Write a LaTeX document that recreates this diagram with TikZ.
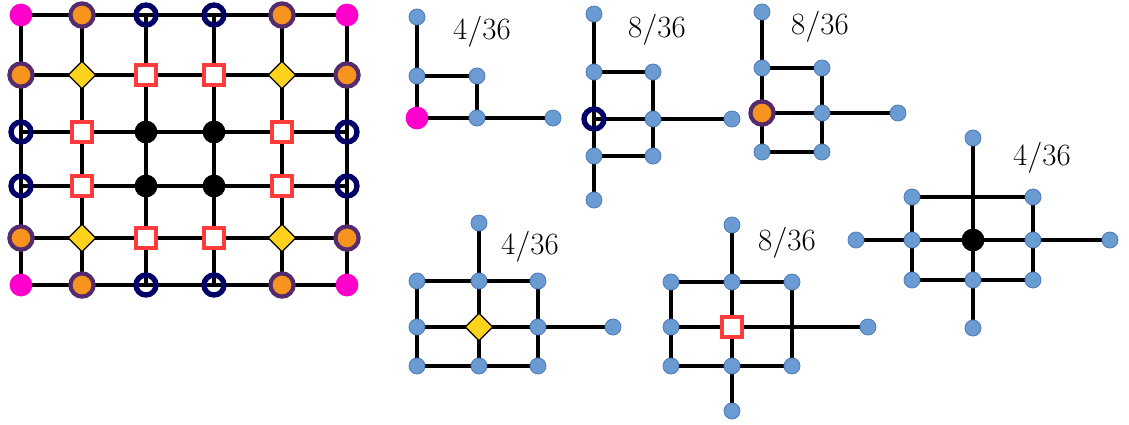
\RequirePackage{fix-cm}
\documentclass[tikz,border=0pt]{standalone}
\usetikzlibrary{shapes.geometric,backgrounds}

\definecolor{magpink}{RGB}{255,0,204}
\definecolor{orangefill}{RGB}{247,148,29}
\definecolor{purpborder}{RGB}{84,44,110}
\definecolor{navyring}{RGB}{0,0,102}
\definecolor{redsq}{RGB}{255,59,59}
\definecolor{yellowdia}{RGB}{255,210,30}
\definecolor{bluenode}{RGB}{106,155,210}
\definecolor{blueborder}{RGB}{80,125,185}

\tikzset{
  edge/.style={line width=3.3pt},
  bl/.style={circle, fill=bluenode, draw=blueborder, line width=0.6pt, inner sep=0pt, minimum size=0.4cm},
  corner/.style={circle, fill=magpink, inner sep=0pt, minimum size=0.57cm},
  orng/.style={circle, fill=orangefill, draw=purpborder, line width=3pt, inner sep=0pt, minimum size=0.58cm},
  ring/.style={circle, draw=navyring, line width=3.8pt, inner sep=0pt, minimum size=0.5cm},
  sq/.style={rectangle, fill=white, draw=redsq, line width=3pt, inner sep=0pt, minimum size=0.5cm},
  dia/.style={diamond, fill=yellowdia, draw=black, line width=0.8pt, inner sep=0pt, aspect=1, minimum size=0.7cm},
  blk/.style={circle, fill=black, inner sep=0pt, minimum size=0.57cm},
  frac/.style={font=\fontsize{22}{26}\selectfont}
}

\begin{document}
\begin{tikzpicture}[x=0.025cm, y=-0.025cm]
\useasboundingbox (0,0) rectangle (1129,424);

% grid 6x6
\foreach \i/\x in {1/21,2/82,3/146,4/214,5/282,6/347}
  \foreach \j/\y in {1/15,2/75,3/132,4/186,5/238,6/285}
    \coordinate (p\i\j) at (\x,\y);
\foreach \p in {11,61,16,66} \node[corner] (g\p) at (p\p) {};
\foreach \p in {21,51,12,62,15,65,26,56} \node[orng] (g\p) at (p\p) {};
\foreach \p in {31,41,13,63,14,64,36,46} \node[ring] (g\p) at (p\p) {};
\foreach \p in {22,52,25,55} \node[dia] (g\p) at (p\p) {};
\foreach \p in {32,42,23,53,24,54,35,45} \node[sq] (g\p) at (p\p) {};
\foreach \p in {33,43,34,44} \node[blk] (g\p) at (p\p) {};
\begin{scope}[on background layer]
\foreach \i [evaluate=\i as \k using int(\i+1)] in {1,...,5}
  \foreach \j in {1,...,6} {
    \draw[edge] (g\i\j.center) -- (g\k\j.center);
    \draw[edge] (g\j\i.center) -- (g\j\k.center);
  }
\end{scope}

% corner 4/36
\node[bl] (a1) at (417,17) {};
\node[bl] (a2) at (417,76) {};
\node[bl] (a3) at (477,76) {};
\node[corner] (a4) at (417,118) {};
\node[bl] (a5) at (477,118) {};
\node[bl] (a6) at (553,118) {};
\node[frac] (la) at (482,32) {$4/36$};

% edge 8/36
\node[bl] (b1) at (594,14) {};
\node[bl] (b2) at (594,72) {};
\node[bl] (b3) at (653,72) {};
\node[ring] (b4) at (594,119) {};
\node[bl] (b5) at (653,119) {};
\node[bl] (b6) at (732,119) {};
\node[bl] (b7) at (594,156) {};
\node[bl] (b8) at (653,156) {};
\node[bl] (b9) at (594,200) {};
\node[frac] (lb) at (657,30) {$8/36$};

% edge 8/36
\node[bl] (c1) at (762,12) {};
\node[bl] (c2) at (762,68) {};
\node[bl] (c3) at (822,68) {};
\node[orng] (c4) at (762,113) {};
\node[bl] (c5) at (822,113) {};
\node[bl] (c6) at (898,113) {};
\node[bl] (c7) at (762,152) {};
\node[bl] (c8) at (822,152) {};
\node[frac] (lc) at (820,27) {$8/36$};

% centre 4/36
\node[bl] (d1) at (973,138) {};
\node[bl] (d2) at (912,197) {};
\node[bl] (d3) at (1033,197) {};
\node[bl] (d4) at (856,240) {};
\node[bl] (d5) at (912,240) {};
\node[blk] (d6) at (973,240) {};
\node[bl] (d7) at (1033,240) {};
\node[bl] (d8) at (1110,240) {};
\node[bl] (d9) at (912,280) {};
\node[bl] (d10) at (973,280) {};
\node[bl] (d11) at (1033,280) {};
\node[bl] (d12) at (973,328) {};
\node[frac] (ld) at (1042,158) {$4/36$};

% diamond 4/36
\node[bl] (e1) at (479,223) {};
\node[bl] (e2) at (417,281) {};
\node[bl] (e3) at (479,281) {};
\node[bl] (e4) at (538,281) {};
\node[bl] (e5) at (417,327) {};
\node[dia] (e6) at (479,327) {};
\node[bl] (e7) at (538,327) {};
\node[bl] (e8) at (613,327) {};
\node[bl] (e9) at (417,366) {};
\node[bl] (e10) at (479,366) {};
\node[bl] (e11) at (538,366) {};
\node[frac] (le) at (530,247) {$4/36$};

% square 8/36
\node[bl] (f1) at (732,225) {};
\node[bl] (f2) at (671,282) {};
\node[bl] (f3) at (732,282) {};
\node[bl] (f4) at (792,282) {};
\node[bl] (f5) at (671,327) {};
\node[sq] (f6) at (732,327) {};
\node[bl] (f7) at (868,327) {};
\node[bl] (f8) at (671,366) {};
\node[bl] (f9) at (732,366) {};
\node[bl] (f10) at (792,366) {};
\node[bl] (f11) at (732,411) {};
\node[frac] (lf) at (787,243) {$8/36$};

\begin{scope}[on background layer]
\draw[edge] (a1.center) -- (a2.center) -- (a4.center) -- (a5.center) -- (a6.center);
\draw[edge] (a2.center) -- (a3.center) -- (a5.center);

\draw[edge] (b1.center) -- (b2.center) -- (b4.center) -- (b7.center) -- (b9.center);
\draw[edge] (b2.center) -- (b3.center) -- (b5.center) -- (b8.center) -- (b7.center);
\draw[edge] (b4.center) -- (b5.center) -- (b6.center);

\draw[edge] (c1.center) -- (c2.center) -- (c4.center) -- (c7.center) -- (c8.center) -- (c5.center) -- (c3.center) -- (c2.center);
\draw[edge] (c4.center) -- (c5.center) -- (c6.center);

\draw[edge] (d1.center) -- (d6.center) -- (d10.center) -- (d12.center);
\draw[edge] (d2.center) -- (d3.center) -- (d7.center) -- (d11.center) -- (d10.center) -- (d9.center) -- (d5.center) -- (d2.center);
\draw[edge] (d4.center) -- (d5.center) -- (d6.center) -- (d7.center) -- (d8.center);

\draw[edge] (e1.center) -- (e3.center) -- (e6.center) -- (e10.center);
\draw[edge] (e2.center) -- (e3.center) -- (e4.center) -- (e7.center) -- (e11.center) -- (e10.center) -- (e9.center) -- (e5.center) -- (e2.center);
\draw[edge] (e5.center) -- (e6.center) -- (e7.center) -- (e8.center);

\draw[edge] (f1.center) -- (f3.center) -- (f6.center) -- (f9.center) -- (f11.center);
\draw[edge] (f2.center) -- (f3.center) -- (f4.center) -- (f10.center) -- (f9.center) -- (f8.center) -- (f5.center) -- (f2.center);
\draw[edge] (f5.center) -- (f6.center) -- (f7.center);
\end{scope}
\end{tikzpicture}
\end{document}
